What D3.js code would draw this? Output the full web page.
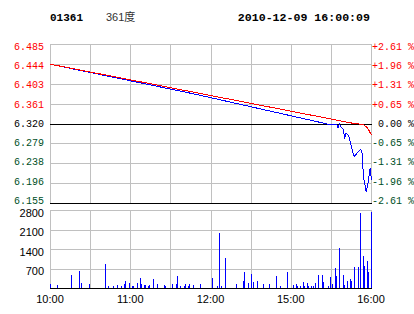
<!DOCTYPE html>
<html>
<head>
<meta charset="utf-8">
<script src="https://cdn.jsdelivr.net/npm/d3@7"></script>
<style>
  body { margin: 0; background: #fff; }
  text { white-space: pre; }
</style>
</head>
<body>
<svg id="chart" width="414" height="314"></svg>
<script>
// header
var stockCode = "01361";
var stockName = "361度";
var stampText = "2010-12-09 16:00:09";

// price axis
var prevClose = 6.320;
var priceTicks = ["6.485", "6.444", "6.403", "6.361", "6.320", "6.279", "6.238", "6.196", "6.155"];
var pctTicks = ["+2.61 %", "+1.96 %", "+1.31 %", "+0.65 %", " 0.00 %", "-0.65 %", "-1.31 %", "-1.96 %", "-2.61 %"];

// time axis
var timeLabels = ["10:00", "11:00", "12:00", "15:00", "16:00"];

// price line (blue)
var priceTimes = ["10:00", "11:48", "15:27", "15:34", "15:35", "15:36", "15:37", "15:39", "15:40", "15:41", "15:43",
                  "15:44", "15:47", "15:50", "15:52", "15:53", "15:54", "15:56", "15:57", "15:59", "16:00"];
var priceValues = [6.444, 6.382, 6.320, 6.320, 6.312, 6.320, 6.315, 6.308, 6.290, 6.301, 6.295,
                   6.283, 6.252, 6.262, 6.268, 6.259, 6.211, 6.180, 6.190, 6.228, 6.204];

// average price line (red)
var avgTimes = ["10:00", "15:47", "15:54", "15:57", "15:58", "16:00"];
var avgValues = [6.444, 6.321, 6.319, 6.312, 6.307, 6.297];

// volume
var volTicks = [700, 1400, 2100, 2800];
var volTimes = ["10:00", "10:05", "10:16", "10:22", "10:23", "10:29", "10:41", "10:43", "10:47", "10:50",
                "10:53", "10:55", "10:56", "10:59", "11:01", "11:02", "11:05", "11:07", "11:08", "11:10",
                "11:11", "11:13", "11:14", "11:17", "11:20", "11:25", "11:26", "11:31", "11:34", "11:35",
                "11:37", "11:40", "11:41", "11:43", "11:44", "11:47", "11:52", "12:01", "12:05", "12:06",
                "12:08", "12:11", "12:19", "12:24", "12:25", "12:28", "12:30", "14:32", "14:35", "14:39",
                "14:44", "14:49", "14:52", "14:57", "15:02", "15:04", "15:05", "15:07", "15:09", "15:10",
                "15:12", "15:13", "15:15", "15:17", "15:18", "15:20", "15:23", "15:24", "15:28", "15:29",
                "15:31", "15:33", "15:34", "15:36", "15:39", "15:40", "15:42", "15:44", "15:45", "15:47",
                "15:50", "15:52", "15:54", "15:55", "15:57", "15:58", "16:00"];
var volValues = [140, 110, 460, 600, 180, 140, 860, 70, 70, 110,
                 70, 140, 250, 180, 70, 70, 180, 360, 140, 110,
                 110, 70, 110, 320, 140, 110, 70, 140, 140, 430,
                 70, 70, 140, 70, 140, 110, 140, 360, 70, 1960,
                 70, 1080, 140, 250, 570, 180, 500, 210, 250, 140,
                 140, 430, 70, 570, 110, 140, 70, 70, 210, 70,
                 180, 70, 70, 70, 180, 460, 460, 210, 70, 390,
                 140, 710, 430, 1430, 460, 110, 250, 320, 250, 750,
                 750, 2680, 1140, 790, 960, 570, 2720];

// trading minutes: 10:00-12:30 then 14:30-16:00
function minuteIndex(t) {
    var p = t.split(':');
    var mins = (+p[0]) * 60 + (+p[1]);
    return mins <= 750 ? mins - 600 : mins - 870 + 150;
}

var svg = d3.select("#chart");
var left = 50, right = 371;
var gridColor = "#c0c0c0";
var green = "#004f1f";
var mono = "'Liberation Mono', 'DejaVu Sans Mono', monospace";
var sans = "'Liberation Sans', Arial, sans-serif";

var x = d3.scaleLinear().domain([0, 240]).range([left, right]);
var y = d3.scaleLinear().domain([6.155, 6.485]).range([203, 44]);
var yv = d3.scaleLinear().domain([0, 2800]).range([288, 210]);

function px(v) { return Math.round(v) + 0.5; }

// header texts
svg.append("text").attr("x", 50).attr("y", 20.5)
   .attr("font-family", mono).attr("font-weight", "bold").attr("font-size", 11)
   .text(stockCode);
svg.append("text").attr("x", 106).attr("y", 20.5)
   .attr("font-family", "'Liberation Sans', 'Noto Sans CJK SC', sans-serif").attr("font-size", 11)
   .attr("fill", "#333").text(stockName);
svg.append("text").attr("x", 370).attr("y", 20.5).attr("text-anchor", "end")
   .attr("font-family", mono).attr("font-weight", "bold").attr("font-size", 11.6)
   .text(stampText);

var grid = svg.append("g").attr("shape-rendering", "crispEdges");

// vertical grid, every 30 minutes, both panels
var vTicks = d3.range(0, 241, 30);
grid.selectAll(".vgrid").data(vTicks).enter().append("line")
    .attr("x1", function(d) { return px(x(d)); })
    .attr("x2", function(d) { return px(x(d)); })
    .attr("y1", 44).attr("y2", 203)
    .attr("stroke", gridColor);
grid.selectAll(".vgrid2").data(vTicks).enter().append("line")
    .attr("x1", function(d) { return px(x(d)); })
    .attr("x2", function(d) { return px(x(d)); })
    .attr("y1", 210).attr("y2", 288)
    .attr("stroke", gridColor);

// horizontal price grid
grid.selectAll(".hgrid").data(priceTicks).enter().append("line")
    .attr("x1", left).attr("x2", right + 1)
    .attr("y1", function(d) { return px(y(+d)); })
    .attr("y2", function(d) { return px(y(+d)); })
    .attr("stroke", function(d, i) { return (+d === prevClose || i === priceTicks.length - 1) ? "#000" : gridColor; });

// horizontal volume grid
grid.selectAll(".vhgrid").data([0].concat(volTicks)).enter().append("line")
    .attr("x1", left).attr("x2", right + 1)
    .attr("y1", function(d) { return px(yv(d)); })
    .attr("y2", function(d) { return px(yv(d)); })
    .attr("stroke", function(d) { return d === 0 ? "#000" : gridColor; });

// price labels
var midY = y(prevClose);
function labelY(v) { var yy = y(v); return yy + (midY - yy) * 0.035; }
function labelColor(v) { return v > prevClose ? "#ff0000" : (v < prevClose ? green : "#000"); }

svg.selectAll(".plabel").data(priceTicks).enter().append("text")
   .attr("x", 44).attr("y", function(d) { return labelY(+d); })
   .attr("dy", "0.35em").attr("text-anchor", "end")
   .attr("font-family", mono).attr("font-size", 10)
   .attr("fill", function(d) { return labelColor(+d); })
   .text(function(d) { return d; });

svg.selectAll(".rlabel").data(pctTicks).enter().append("text")
   .attr("x", 372).attr("y", function(d, i) { return labelY(+priceTicks[i]); })
   .attr("dy", "0.35em")
   .attr("font-family", mono).attr("font-size", 10)
   .attr("fill", function(d, i) { return labelColor(+priceTicks[i]); })
   .text(function(d) { return d; });

// volume labels
svg.selectAll(".vlabel").data(volTicks).enter().append("text")
   .attr("x", 44).attr("y", function(d) { return yv(d) + 2.8; })
   .attr("dy", "0.35em").attr("text-anchor", "end")
   .attr("font-family", sans).attr("font-size", 11)
   .text(function(d) { return d; });

// time labels
svg.selectAll(".tlabel").data(timeLabels).enter().append("text")
   .attr("x", function(d) { return x(minuteIndex(d)); }).attr("y", 302.5)
   .attr("text-anchor", "middle")
   .attr("font-family", sans).attr("font-size", 11)
   .text(function(d) { return d; });

// volume bars
svg.append("g").attr("shape-rendering", "crispEdges")
   .selectAll("rect").data(volTimes).enter().append("rect")
   .attr("x", function(d) { return Math.round(x(minuteIndex(d))); })
   .attr("width", 1)
   .attr("y", function(d, i) { return Math.round(yv(volValues[i])); })
   .attr("height", function(d, i) { return 288 - Math.round(yv(volValues[i])); })
   .attr("fill", "#0000ff");

// price and average lines
var line = d3.line()
    .x(function(d) { return x(minuteIndex(d[0])) + 0.5; })
    .y(function(d) { return y(d[1]) + 0.5; });

svg.append("path")
   .attr("d", line(d3.zip(priceTimes, priceValues)))
   .attr("fill", "none").attr("stroke", "#0000ff").attr("stroke-width", 1)
   .attr("shape-rendering", "crispEdges");

svg.append("path")
   .attr("d", line(d3.zip(avgTimes, avgValues)))
   .attr("fill", "none").attr("stroke", "#ff0000").attr("stroke-width", 1)
   .attr("shape-rendering", "crispEdges");
</script>
</body>
</html>
